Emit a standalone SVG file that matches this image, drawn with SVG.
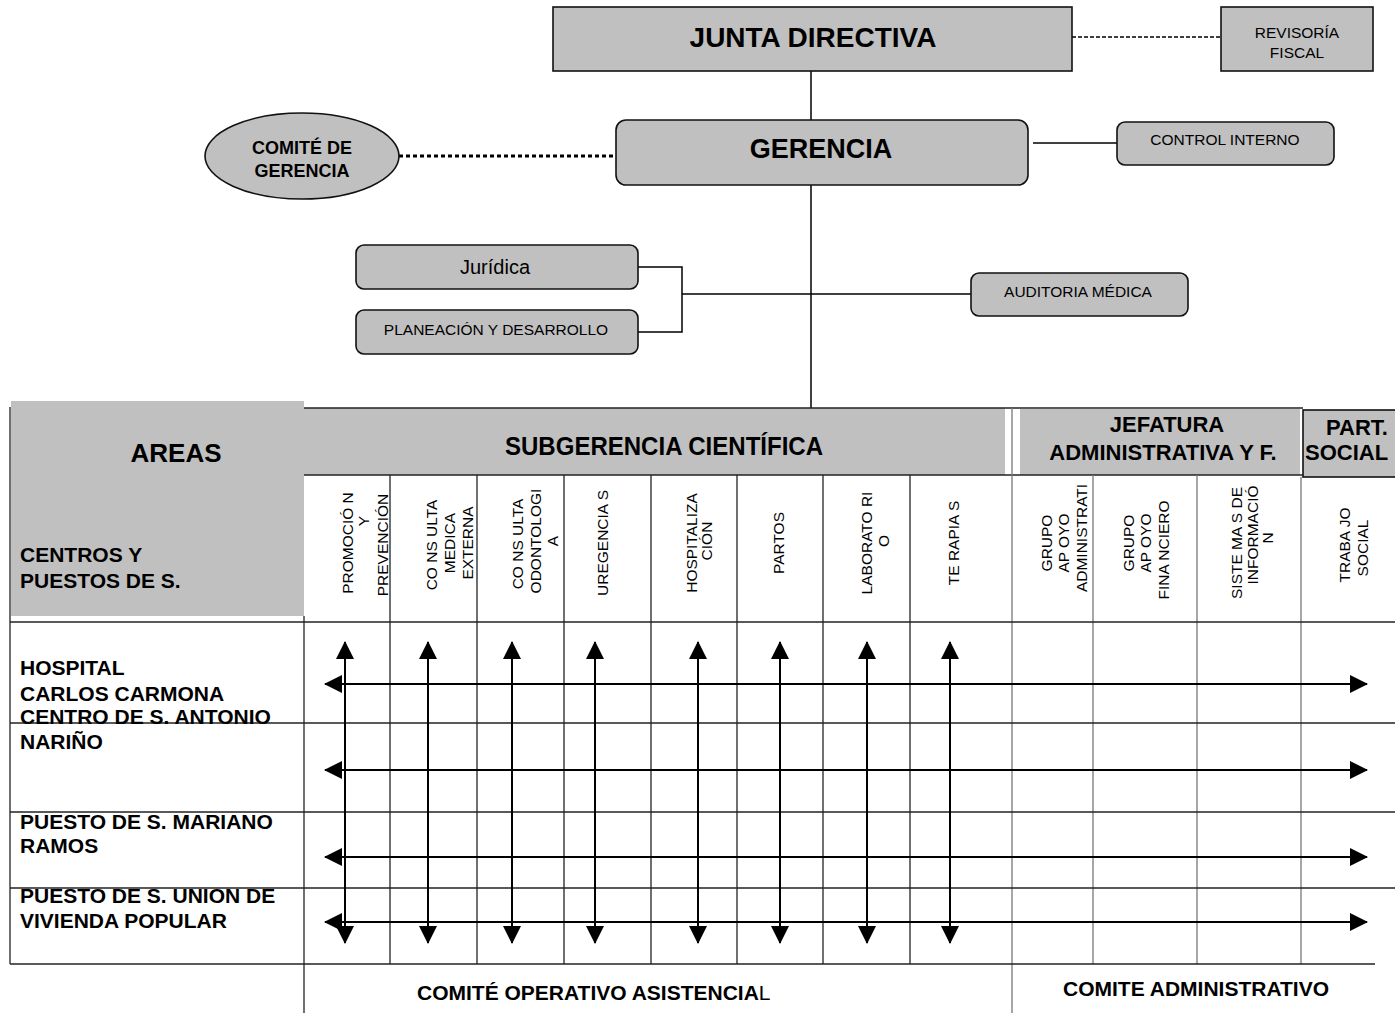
<svg xmlns="http://www.w3.org/2000/svg" width="1395" height="1013" viewBox="0 0 1395 1013">
<defs>
<style>
text{font-family:"Liberation Sans",Arial,Helvetica,sans-serif;fill:#000}
.b{font-weight:bold}
.m{text-anchor:middle}
.box{fill:#c0c0c0;stroke:#111;stroke-width:1.6}
.gray{fill:#c0c0c0;stroke:none}
.ln{stroke:#000;stroke-width:1.5;fill:none}
.grid{stroke:#222;stroke-width:1.3;fill:none}
.grid2{stroke:#777;stroke-width:1.3;fill:none}
.arr{stroke:#000;stroke-width:2;fill:none;marker-start:url(#ah);marker-end:url(#ah)}
.col{font-size:15.5px;text-anchor:middle}
.row{font-size:21px;font-weight:bold}
</style>
<marker id="ah" markerUnits="userSpaceOnUse" markerWidth="18" markerHeight="18" viewBox="0 0 18 18" refX="17" refY="9" orient="auto-start-reverse"><path d="M0,0 L18,9 L0,18 z" fill="#000"/></marker>
</defs>
<rect width="1395" height="1013" fill="#fff"/>

<g id="connectors">
<line class="ln" x1="1072" y1="37" x2="1221" y2="37" stroke-dasharray="4,2" stroke-width="1.2"/>
<line class="ln" x1="811" y1="71" x2="811" y2="120"/>
<line x1="399" y1="156" x2="616" y2="156" stroke="#000" stroke-dasharray="4,3" stroke-width="3.2"/>
<line class="ln" x1="1033" y1="143" x2="1117" y2="143"/>
<line class="ln" x1="811" y1="185" x2="811" y2="418"/>
<path class="ln" d="M638,267 H682 V332 H638"/>
<line class="ln" x1="682" y1="294" x2="971" y2="294"/>
</g>

<g id="junta-directiva">
<rect class="box" x="553" y="7" width="519" height="64"/>
<text class="b m" x="813" y="47" font-size="28">JUNTA DIRECTIVA</text>
</g>
<g id="revisoria-fiscal">
<rect class="box" x="1221" y="7" width="152" height="64"/>
<text class="m" x="1297" y="38" font-size="15.5">REVISORÍA</text>
<text class="m" x="1297" y="58" font-size="15.5">FISCAL</text>
</g>
<g id="gerencia">
<rect class="box" x="616" y="120" width="412" height="65" rx="10"/>
<text class="b m" x="821" y="158" font-size="27">GERENCIA</text>
</g>
<g id="comite-gerencia">
<ellipse class="box" cx="302" cy="156" rx="97" ry="43"/>
<text class="b m" x="302" y="154" font-size="18">COMITÉ DE</text>
<text class="b m" x="302" y="177" font-size="18">GERENCIA</text>
</g>
<g id="control-interno">
<rect class="box" x="1117" y="122" width="217" height="43" rx="8"/>
<text class="m" x="1225" y="145" font-size="15.5">CONTROL INTERNO</text>
</g>
<g id="juridica">
<rect class="box" x="356" y="245" width="282" height="44" rx="8"/>
<text class="m" x="495" y="274" font-size="20">Jurídica</text>
</g>
<g id="planeacion">
<rect class="box" x="356" y="310" width="282" height="44" rx="8"/>
<text class="m" x="496" y="335" font-size="15.5">PLANEACIÓN Y DESARROLLO</text>
</g>
<g id="auditoria-medica">
<rect class="box" x="971" y="273" width="217" height="43" rx="8"/>
<text class="m" x="1078" y="297" font-size="15.5">AUDITORIA MÉDICA</text>
</g>

<g id="table-header">
<rect class="gray" x="11" y="401" width="293" height="215"/>
<rect class="gray" x="304" y="408" width="701" height="67"/>
<rect class="gray" x="1020" y="409" width="280" height="66"/>
<rect class="box" x="1303" y="410" width="100" height="67"/>
<line class="grid" x1="304" y1="408" x2="1303" y2="408"/>
<line class="grid" x1="304" y1="475" x2="1303" y2="475"/>
<line class="grid" x1="10" y1="407" x2="10" y2="964"/>
<text class="b m" x="176" y="462" font-size="26">AREAS</text>
<text class="b" x="20" y="562" font-size="21">CENTROS Y</text>
<text class="b" x="20" y="588" font-size="21">PUESTOS DE S.</text>
<text class="b m" x="664" y="455" font-size="25" textLength="318" lengthAdjust="spacingAndGlyphs">SUBGERENCIA CIENTÍFICA</text>
<text class="b m" x="1167" y="432" font-size="22">JEFATURA</text>
<text class="b m" x="1163" y="460" font-size="22">ADMINISTRATIVA Y F.</text>
<text class="b" x="1326" y="435" font-size="22">PART.</text>
<text class="b" x="1305" y="460" font-size="22">SOCIAL</text>
</g>

<g id="grid">
<line class="grid" x1="304" y1="616" x2="304" y2="1013"/>
<line class="grid" x1="390" y1="475" x2="390" y2="964"/>
<line class="grid" x1="477" y1="475" x2="477" y2="964"/>
<line class="grid" x1="564" y1="475" x2="564" y2="964"/>
<line class="grid" x1="651" y1="475" x2="651" y2="964"/>
<line class="grid" x1="737" y1="475" x2="737" y2="964"/>
<line class="grid" x1="823" y1="475" x2="823" y2="964"/>
<line class="grid" x1="910" y1="475" x2="910" y2="964"/>
<line class="grid2" x1="1012" y1="408" x2="1012" y2="1013" stroke="#555"/>
<line class="grid2" x1="1093" y1="475" x2="1093" y2="964" stroke="#555"/>
<line class="grid2" x1="1197" y1="475" x2="1197" y2="964" stroke="#888"/>
<line class="grid2" x1="1301" y1="477" x2="1301" y2="964"/>
<line class="grid" x1="10" y1="622" x2="1395" y2="622" stroke="#444"/>
<line class="grid" x1="10" y1="723" x2="1395" y2="723" stroke="#aaa" stroke-width="1.8"/>
<line class="grid" x1="10" y1="812" x2="1395" y2="812" stroke="#555"/>
<line class="grid" x1="10" y1="888" x2="1395" y2="888" stroke="#111"/>
<line class="grid" x1="10" y1="964" x2="1375" y2="964" stroke="#555"/>
</g>

<g id="columns">
<g id="col-promocion">
<text class="col" transform="translate(353,543) rotate(-90)">PROMOCIÓ N</text>
<text class="col" transform="translate(369,521) rotate(-90)">Y</text>
<text class="col" transform="translate(388,545) rotate(-90)">PREVENCIÓN</text>
</g>
<g id="col-consulta-externa">
<text class="col" transform="translate(437,545) rotate(-90)">CO NS ULTA</text>
<text class="col" transform="translate(455,543) rotate(-90)">MEDICA</text>
<text class="col" transform="translate(473,543) rotate(-90)">EXTERNA</text>
</g>
<g id="col-odontologia">
<text class="col" transform="translate(523,544) rotate(-90)">CO NS ULTA</text>
<text class="col" transform="translate(541,541) rotate(-90)">ODONTOLOGI</text>
<text class="col" transform="translate(558,541) rotate(-90)">A</text>
</g>
<g id="col-urgencias">
<text class="col" transform="translate(608,543) rotate(-90)">UREGENCIA S</text>
</g>
<g id="col-hospitalizacion">
<text class="col" transform="translate(697,543) rotate(-90)">HOSPITALIZA</text>
<text class="col" transform="translate(712,541) rotate(-90)">CIÓN</text>
</g>
<g id="col-partos">
<text class="col" transform="translate(784,543) rotate(-90)">PARTOS</text>
</g>
<g id="col-laboratorio">
<text class="col" transform="translate(872,543) rotate(-90)">LABORATO RI</text>
<text class="col" transform="translate(889,541) rotate(-90)">O</text>
</g>
<g id="col-terapias">
<text class="col" transform="translate(959,543) rotate(-90)">TE RAPIA S</text>
</g>
<g id="col-apoyo-admin">
<text class="col" transform="translate(1052,543) rotate(-90)">GRUPO</text>
<text class="col" transform="translate(1069,543) rotate(-90)">AP OYO</text>
<text class="col" transform="translate(1087,538) rotate(-90)">ADMINISTRATI</text>
</g>
<g id="col-apoyo-fin">
<text class="col" transform="translate(1134,543) rotate(-90)">GRUPO</text>
<text class="col" transform="translate(1151,543) rotate(-90)">AP OYO</text>
<text class="col" transform="translate(1169,550) rotate(-90)">FINA NCIERO</text>
</g>
<g id="col-sistemas">
<text class="col" transform="translate(1242,543) rotate(-90)">SISTE MA S DE</text>
<text class="col" transform="translate(1258,535) rotate(-90)">INFORMACIÓ</text>
<text class="col" transform="translate(1273,538) rotate(-90)">N</text>
</g>
<g id="col-trabajo-social">
<text class="col" transform="translate(1350,545) rotate(-90)">TRABA JO</text>
<text class="col" transform="translate(1368,548) rotate(-90)">SOCIAL</text>
</g>
</g>

<g id="rows">
<g id="row-hospital">
<text class="row" x="20" y="675">HOSPITAL</text>
<text class="row" x="20" y="701">CARLOS CARMONA</text>
</g>
<g id="row-antonio">
<text class="row" x="20" y="724">CENTRO DE S. ANTONIO</text>
<text class="row" x="20" y="749">NARIÑO</text>
</g>
<g id="row-mariano">
<text class="row" x="20" y="829">PUESTO DE S. MARIANO</text>
<text class="row" x="20" y="853">RAMOS</text>
</g>
<g id="row-union">
<text class="row" x="20" y="903">PUESTO DE S. UNION DE</text>
<text class="row" x="20" y="928">VIVIENDA POPULAR</text>
</g>
</g>

<g id="flow-arrows">
<line class="arr" x1="325" y1="684" x2="1367" y2="684"/>
<line class="arr" x1="325" y1="770" x2="1367" y2="770"/>
<line class="arr" x1="325" y1="857" x2="1367" y2="857"/>
<line class="arr" x1="325" y1="922" x2="1367" y2="922"/>
<line class="arr" x1="345" y1="642" x2="345" y2="943"/>
<line class="arr" x1="428" y1="642" x2="428" y2="943"/>
<line class="arr" x1="512" y1="642" x2="512" y2="943"/>
<line class="arr" x1="595" y1="642" x2="595" y2="943"/>
<line class="arr" x1="698" y1="642" x2="698" y2="943"/>
<line class="arr" x1="780" y1="642" x2="780" y2="943"/>
<line class="arr" x1="867" y1="642" x2="867" y2="943"/>
<line class="arr" x1="950" y1="642" x2="950" y2="943"/>
</g>

<g id="comites">
<text class="b" x="417" y="1000" font-size="21">COMITÉ OPERATIVO ASISTENCIA<tspan font-weight="normal">L</tspan></text>
<text class="b" x="1063" y="996" font-size="21">COMITE ADMINISTRATIVO</text>
</g>
</svg>
